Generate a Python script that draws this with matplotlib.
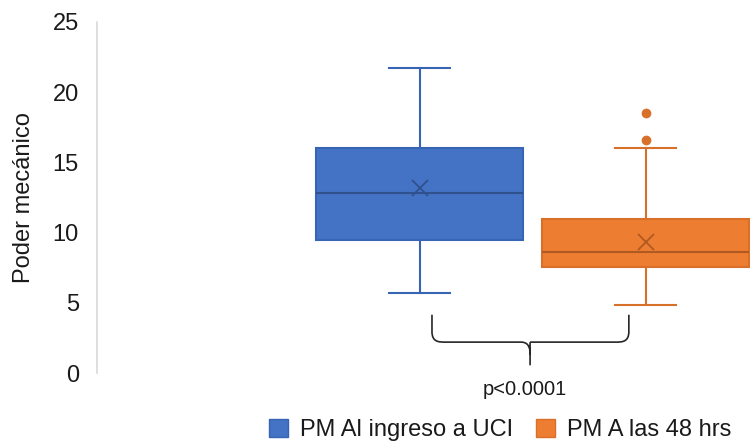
import matplotlib.pyplot as plt
from matplotlib.path import Path
from matplotlib.patches import PathPatch, Patch

plt.rcParams['font.family'] = ['Liberation Sans', 'DejaVu Sans']

series_names = ["PM Al ingreso a UCI", "PM A las 48 hrs"]
whisker_low = [5.7, 4.85]
q1 = [9.45, 7.55]
median = [12.8, 8.6]
q3 = [16.0, 11.0]
whisker_high = [21.7, 16.0]
means = [13.2, 9.3]
outliers = [[], [16.6, 18.5]]

fill_colors = ["#4472C4", "#ED7D31"]
edge_colors = ["#3864B4", "#D9702A"]
median_colors = ["#2F528F", "#AE5A21"]
p_text = "p<0.0001"

fig = plt.figure(figsize=(7.5, 4.44), dpi=100)
ax = fig.add_axes([97 / 750, 71 / 444, 1 - 97 / 750, 351 / 444])

stats = []
for i in range(len(series_names)):
    stats.append(dict(whislo=whisker_low[i], q1=q1[i], med=median[i], q3=q3[i],
                      whishi=whisker_high[i], mean=means[i], fliers=outliers[i],
                      label=series_names[i]))

positions = [1, 2]
for i in range(len(stats)):
    ax.bxp([stats[i]], positions=[positions[i]], widths=0.916, patch_artist=True,
           showmeans=True, capwidths=0.27,
           boxprops=dict(facecolor=fill_colors[i], edgecolor=edge_colors[i], linewidth=1.5),
           medianprops=dict(color=median_colors[i], linewidth=1.5),
           whiskerprops=dict(color=edge_colors[i], linewidth=1.5),
           capprops=dict(color=edge_colors[i], linewidth=1.5),
           meanprops=dict(marker="x", markeredgecolor=median_colors[i], markersize=11,
                          markeredgewidth=1.3),
           flierprops=dict(marker="o", markerfacecolor=edge_colors[i],
                           markeredgecolor=edge_colors[i], markersize=6))

ax.set_xlim(-0.427, 2.462)
ax.set_ylim(0, 25)
ax.set_yticks([0, 5, 10, 15, 20, 25])
ax.set_xticks([])
ax.tick_params(axis="y", length=0, pad=13, labelsize=17, labelcolor="#1a1a1a")
for side in ["top", "right", "bottom"]:
    ax.spines[side].set_visible(False)
ax.spines["left"].set_color("#D9D9D9")
ax.spines["left"].set_linewidth(1.2)
ax.set_ylabel("Poder mecánico", fontsize=17, labelpad=13, color="#1a1a1a")

# curly bracket below the boxes
xl, xr, xc = 1.055, 1.926, 1.489
yt, yh, yb = 4.15, 2.2, 0.55
verts = [(xl, yt), (xl, yt - 1.2),
         (xl, yh), (xl + 0.03, yh), (xl + 0.06, yh),
         (xc - 0.04, yh),
         (xc, yh), (xc, yh - 0.6), (xc, yh - 0.9),
         (xc, yb),
         (xc, yh - 0.9), (xc, yh - 0.6), (xc, yh),
         (xc, yh), (xc + 0.04, yh), (xc + 0.04, yh),
         (xr - 0.06, yh),
         (xr - 0.03, yh), (xr, yh), (xr, yt - 1.2),
         (xr, yt)]
codes = [Path.MOVETO, Path.LINETO,
         Path.CURVE4, Path.CURVE4, Path.CURVE4,
         Path.LINETO,
         Path.CURVE4, Path.CURVE4, Path.CURVE4,
         Path.LINETO,
         Path.MOVETO, Path.LINETO, Path.LINETO,
         Path.MOVETO, Path.LINETO, Path.LINETO,
         Path.LINETO,
         Path.CURVE4, Path.CURVE4, Path.CURVE4,
         Path.LINETO]
ax.add_patch(PathPatch(Path(verts, codes), facecolor="none", edgecolor="#262626",
                       linewidth=1.2, clip_on=False))
ax.text(xc - 0.025, -1.2, p_text, ha="center", va="center", fontsize=14.5,
        color="#1a1a1a", clip_on=False)

handles = [Patch(facecolor=fill_colors[i], edgecolor=edge_colors[i], label=series_names[i])
           for i in range(len(series_names))]
fig.legend(handles=handles, loc="center", bbox_to_anchor=(0.667, 0.032), ncol=2,
           frameon=False, fontsize=17, handlelength=0.8, handleheight=0.8,
           handletextpad=0.5, columnspacing=1.0, labelcolor="#1a1a1a")

fig.savefig("out.png", dpi=100)
